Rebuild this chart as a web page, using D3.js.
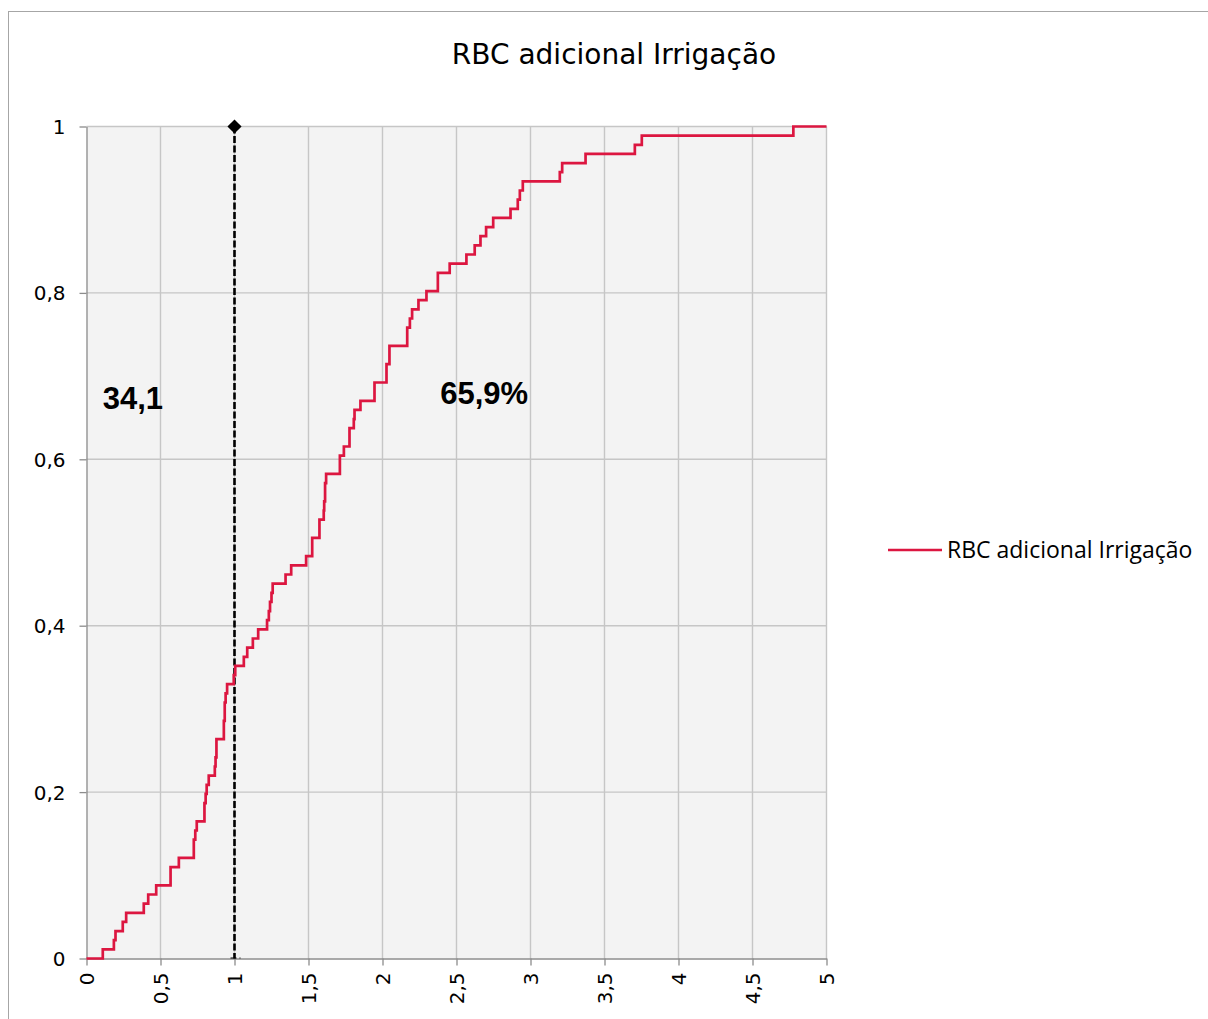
<!DOCTYPE html>
<html>
<head>
<meta charset="utf-8">
<script src="https://cdn.jsdelivr.net/npm/d3@7"></script>
<style>
  html, body { margin: 0; padding: 0; background: #ffffff; }
  svg { display: block; }
</style>
</head>
<body>
<svg id="chart" width="1208" height="1019"></svg>
<script>
// ---- Data ----
const chartTitle = "RBC adicional Irrigação";
const seriesName = "RBC adicional Irrigação";
const sampleSize = 91;
// x position of each step of the empirical cumulative curve
const stepX = [0.11, 0.185, 0.196, 0.245, 0.268, 0.387, 0.417, 0.471, 0.568, 0.624,
  0.725, 0.735, 0.745, 0.797, 0.805, 0.812, 0.826, 0.867, 0.872, 0.878,
  0.928, 0.934, 0.94, 0.95, 0.995, 1.005, 1.063, 1.086, 1.124, 1.16,
  1.22, 1.232, 1.24, 1.25, 1.258, 1.345, 1.383, 1.484, 1.525, 1.574,
  1.603, 1.606, 1.612, 1.619, 1.712, 1.739, 1.777, 1.806, 1.811, 1.851,
  1.946, 2.027, 2.047, 2.167, 2.185, 2.2, 2.243, 2.297, 2.374, 2.454,
  2.567, 2.623, 2.662, 2.70, 2.748, 2.865, 2.914, 2.928, 2.948, 3.198,
  3.214, 3.372, 3.705, 3.752, 4.776];
// cumulative count reached at each step
const stepCount = [1, 2, 3, 4, 5, 6, 7, 8, 10, 11,
  13, 14, 15, 17, 18, 19, 20, 21, 22, 24,
  26, 28, 29, 30, 31, 32, 33, 34, 35, 36,
  37, 38, 39, 40, 41, 42, 43, 44, 46, 48,
  49, 50, 52, 53, 55, 56, 58, 59, 60, 61,
  63, 65, 67, 69, 70, 71, 72, 73, 75, 76,
  77, 78, 79, 80, 81, 82, 83, 84, 85, 86,
  87, 88, 89, 90, 91];
const xDomain = [0, 5];
const yDomain = [0, 1];
const xTickValues = [0, 0.5, 1, 1.5, 2, 2.5, 3, 3.5, 4, 4.5, 5];
const xTickLabels = ["0", "0,5", "1", "1,5", "2", "2,5", "3", "3,5", "4", "4,5", "5"];
const yTickValues = [0, 0.2, 0.4, 0.6, 0.8, 1];
const yTickLabels = ["0", "0,2", "0,4", "0,6", "0,8", "1"];
const cutoffX = 1;
const annotations = [
  { x: 0.11, y: 0.661, text: "34,1" },
  { x: 2.39, y: 0.666, text: "65,9%" }
];

// ---- Drawing ----
const svg = d3.select("#chart");
const W = 1208, H = 1019;
const plot = { left: 86.5, right: 826.5, top: 126.5, bottom: 958.5 };

const x = d3.scaleLinear().domain(xDomain).range([plot.left, plot.right]);
const y = d3.scaleLinear().domain(yDomain).range([plot.bottom, plot.top]);

svg.append("rect").attr("width", W).attr("height", H).attr("fill", "#ffffff");
// chart area border
svg.append("rect").attr("x", 8.5).attr("y", 11.5).attr("width", W + 20).attr("height", H + 20)
  .attr("fill", "none").attr("stroke", "#a6a6a6").attr("stroke-width", 1);

// plot background
svg.append("rect").attr("x", plot.left).attr("y", plot.top)
  .attr("width", plot.right - plot.left).attr("height", plot.bottom - plot.top)
  .attr("fill", "#f3f3f3");

// gridlines
const grid = svg.append("g");
grid.selectAll("line.v").data(xTickValues.filter(d => d > 0)).join("line")
  .attr("x1", d => x(d)).attr("x2", d => x(d))
  .attr("y1", plot.top).attr("y2", plot.bottom)
  .attr("stroke", "#c6c6c6").attr("stroke-width", 1.4);
grid.selectAll("line.h").data(yTickValues.filter(d => d > 0)).join("line")
  .attr("x1", plot.left).attr("x2", plot.right)
  .attr("y1", d => y(d)).attr("y2", d => y(d))
  .attr("stroke", "#c6c6c6").attr("stroke-width", 1.4);

// axes
const axisColor = "#8c8c8c";
const labelFont = "'DejaVu Sans', Verdana, sans-serif";
const yAxis = d3.axisLeft(y).tickValues(yTickValues)
  .tickFormat((d, i) => yTickLabels[i]).tickSizeInner(7).tickSizeOuter(0).tickPadding(14);
const gy = svg.append("g").attr("transform", `translate(${plot.left},0)`).call(yAxis)
  .attr("font-size", 20).attr("font-family", labelFont);
gy.select(".domain").attr("stroke", axisColor).attr("stroke-width", 1.3);
gy.selectAll(".tick line").attr("stroke", axisColor).attr("stroke-width", 1.3);
gy.selectAll(".tick text").style("font-size", "20px").style("font-family", labelFont)
  .attr("fill", "#000").attr("dy", "0.35em");

const xAxis = d3.axisBottom(x).tickValues(xTickValues)
  .tickFormat((d, i) => xTickLabels[i]).tickSizeInner(7).tickSizeOuter(0);
const gx = svg.append("g").attr("transform", `translate(0,${plot.bottom})`).call(xAxis)
  .attr("font-size", 20).attr("font-family", labelFont);
gx.select(".domain").attr("stroke", axisColor).attr("stroke-width", 1.3);
gx.selectAll(".tick line").attr("stroke", axisColor).attr("stroke-width", 1.3);
gx.selectAll(".tick text")
  .style("font-size", "20px").style("font-family", labelFont)
  .attr("fill", "#000")
  .attr("text-anchor", "end")
  .attr("transform", "rotate(-90)")
  .attr("x", -14).attr("y", 0).attr("dy", "0.36em");

// cutoff dashed line
svg.append("line")
  .attr("x1", x(cutoffX)).attr("x2", x(cutoffX))
  .attr("y1", y(1)).attr("y2", y(0))
  .attr("stroke", "#000").attr("stroke-width", 2.6).attr("stroke-dasharray", "7,2.5");
svg.append("line")
  .attr("x1", x(cutoffX) - 4).attr("x2", x(cutoffX) + 6)
  .attr("y1", y(0) - 0.5).attr("y2", y(0) - 0.5)
  .attr("stroke", "#000").attr("stroke-width", 1.2).attr("stroke-dasharray", "6,3");
svg.append("path")
  .attr("transform", `translate(${x(cutoffX)},${y(1)}) rotate(45)`)
  .attr("d", d3.symbol().type(d3.symbolSquare).size(100)())
  .attr("fill", "#000");

// ECDF step line
const pts = [[0, 0]].concat(stepX.map((v, i) => [v, stepCount[i] / sampleSize]));
pts.push([xDomain[1], stepCount[stepCount.length - 1] / sampleSize]);
const line = d3.line().x(d => x(d[0])).y(d => y(d[1])).curve(d3.curveStepAfter);
svg.append("path").datum(pts).attr("d", line)
  .attr("fill", "none").attr("stroke", "#dc1640").attr("stroke-width", 2.7)
  .attr("stroke-linejoin", "miter");

// annotations
svg.selectAll("text.ann").data(annotations).join("text")
  .attr("class", "ann")
  .attr("x", d => x(d.x)).attr("y", d => y(d.y))
  .attr("font-family", "'Liberation Sans', Arial, sans-serif")
  .attr("font-weight", "bold").attr("font-size", 31).attr("fill", "#000")
  .text(d => d.text);

// title
svg.append("text").attr("x", 614).attr("y", 64).attr("text-anchor", "middle")
  .attr("font-family", "'DejaVu Sans', Verdana, sans-serif").attr("font-size", 28)
  .attr("fill", "#000").text(chartTitle);

// legend
const lg = svg.append("g").attr("transform", "translate(888,550)");
lg.append("line").attr("x1", 0).attr("x2", 54).attr("y1", 0).attr("y2", 0)
  .attr("stroke", "#dc1640").attr("stroke-width", 2.6);
lg.append("text").attr("x", 59).attr("y", 7.5)
  .attr("font-family", "'Open Sans', Lato, sans-serif").attr("font-size", 23)
  .attr("fill", "#000").text(seriesName);
</script>
</body>
</html>
